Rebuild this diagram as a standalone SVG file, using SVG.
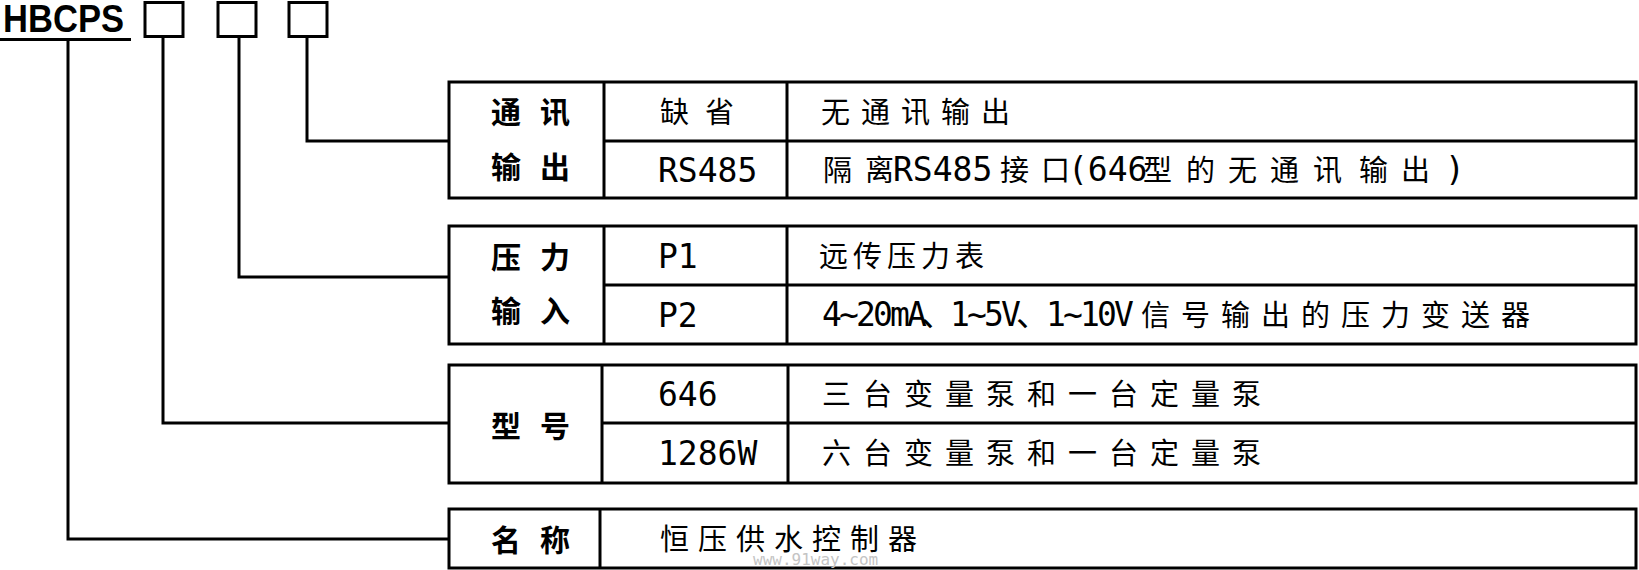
<svg xmlns="http://www.w3.org/2000/svg" width="1639" height="570" viewBox="0 0 1639 570">
<style>
.ln{fill:none;stroke:#000;stroke-width:3}
.cell{fill:none;stroke:#000;stroke-width:3}
.box{fill:#fff;stroke:#000;stroke-width:3}
.lbl{font-family:"Noto Sans CJK SC",sans-serif;font-size:30px;font-weight:bold;letter-spacing:19px;fill:#000}
.cn{font-family:"Noto Sans CJK SC",sans-serif;font-size:29px;fill:#000}
.mono{font-family:"DejaVu Sans Mono","Noto Sans CJK SC",monospace;font-size:33px}
.wm{font-family:"DejaVu Sans Mono",monospace;font-size:16px;fill:#c4c4c4}
</style>
<rect x="0" y="0" width="1639" height="570" fill="#fff"/>

<g id="connectors" class="ln">
  <path d="M307,37 V141 H449"/>
  <path d="M239,37 V277 H449"/>
  <path d="M163,37 V423 H449"/>
  <path d="M68,39 V539 H449"/>
</g>

<g id="model-code">
  <text x="3" y="32" font-family="Liberation Sans, Arial, sans-serif" font-weight="bold" font-size="38" textLength="121" lengthAdjust="spacingAndGlyphs">HBCPS</text>
  <line class="ln" x1="0" y1="39.5" x2="131" y2="39.5"/>
</g>
<g id="slot1"><rect class="box" x="145" y="2.5" width="38" height="34"/></g>
<g id="slot2"><rect class="box" x="218" y="2.5" width="38" height="34"/></g>
<g id="slot3"><rect class="box" x="289" y="2.5" width="38" height="34"/></g>

<g id="table-comm">
  <rect class="cell" x="449" y="82" width="1187" height="116"/>
  <path class="cell" d="M604,82 V198 M787,82 V198 M604,141 H1636"/>
  <text class="lbl" x="491" y="123">通讯</text>
  <text class="lbl" x="491" y="177.5">输出</text>
  <text class="cn" x="660" y="122.5" letter-spacing="16">缺省</text>
  <text class="mono" x="658" y="181.5">RS485</text>
  <text class="cn" x="821" y="122.5" letter-spacing="11">无通讯输出</text>
  <text class="cn" y="181"><tspan x="823 865">隔离</tspan><tspan class="mono" x="893">RS485</tspan><tspan x="1000 1041">接口</tspan><tspan class="mono" x="1068">(646</tspan><tspan x="1143 1186 1228 1270 1313 1359 1401">型的无通讯输出</tspan><tspan class="mono" x="1428 1445"> )</tspan></text>
</g>

<g id="table-pressure">
  <rect class="cell" x="449" y="226" width="1187" height="118"/>
  <path class="cell" d="M604,226 V344 M787,226 V344 M604,285 H1636"/>
  <text class="lbl" x="491" y="267.5">压力</text>
  <text class="lbl" x="491" y="321.5">输入</text>
  <text class="mono" x="658" y="267.5">P1</text>
  <text class="mono" x="658" y="326.5">P2</text>
  <text class="cn" x="819" y="266.5" letter-spacing="5">远传压力表</text>
  <text class="cn" y="325.5"><tspan class="mono" font-size="31" x="822 839 856 873 890 907 921 950 967 984 1001 1016 1046 1063 1080 1097 1114">4~20mA、1~5V、1~10V</tspan><tspan x="1141 1181 1221 1261 1301 1341 1381 1421 1461 1501">信号输出的压力变送器</tspan></text>
</g>

<g id="table-model">
  <rect class="cell" x="449" y="365" width="1187" height="118"/>
  <path class="cell" d="M602,365 V483 M788,365 V483 M602,423 H1636"/>
  <text class="lbl" x="491" y="436.5">型号</text>
  <text class="mono" x="658" y="406">646</text>
  <text class="mono" x="658" y="465">1286W</text>
  <text class="cn" x="822" y="405" letter-spacing="12">三台变量泵和一台定量泵</text>
  <text class="cn" x="822" y="464" letter-spacing="12">六台变量泵和一台定量泵</text>
</g>

<g id="table-name">
  <rect class="cell" x="449" y="509" width="1187" height="59"/>
  <path class="cell" d="M600,509 V568"/>
  <text class="lbl" x="491" y="550.5">名称</text>
  <text class="cn" x="660" y="550" letter-spacing="9">恒压供水控制器</text>
</g>

<text class="wm" x="753" y="565">www.91way.com</text>
</svg>
